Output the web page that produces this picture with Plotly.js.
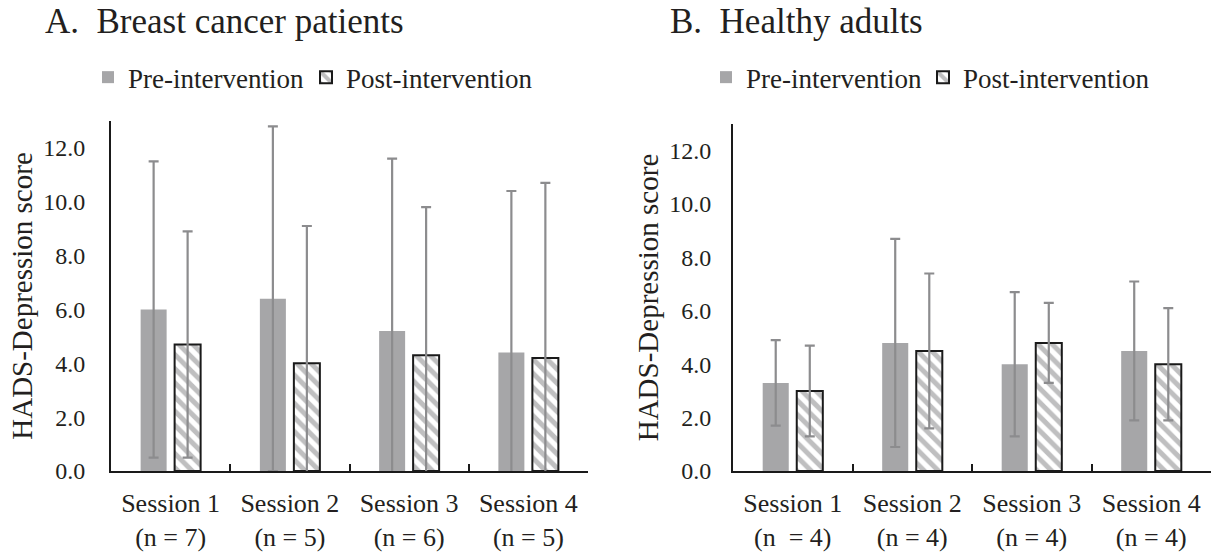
<!DOCTYPE html>
<html>
<head>
<meta charset="utf-8">
<script src="https://cdn.plot.ly/plotly-3.0.1.min.js"></script>
<style>html,body{margin:0;padding:0;background:#fff;}#chart{width:1226px;height:555px;}</style>
</head>
<body>
<div id="chart"></div>
<script>
// ---- data ----
const sessions = ['Session 1', 'Session 2', 'Session 3', 'Session 4'];
const nA = ['(n = 7)', '(n = 5)', '(n = 6)', '(n = 5)'];
const nB = ['(n\u00a0 = 4)', '(n = 4)', '(n = 4)', '(n = 4)'];

const preA = [6.0, 6.4, 5.2, 4.4];
const preAErr = [5.5, 6.4, 6.4, 6.0];
const postA = [4.7, 4.0, 4.3, 4.2];
const postAErr = [4.2, 5.1, 5.5, 6.5];

const preB = [3.3, 4.8, 4.0, 4.5];
const preBErr = [1.6, 3.9, 2.7, 2.6];
const postB = [3.0, 4.5, 4.8, 4.0];
const postBErr = [1.7, 2.9, 1.5, 2.1];

const yTicks = [0, 2, 4, 6, 8, 10, 12];

// ---- styles ----
const FONT = 'Liberation Serif, Times New Roman, Times, serif';
const TXT = '#231f20';
const PRE_COLOR = '#a6a6a8';
const ERR_COLOR = '#8c8c8e';
const HATCH = '#7f7f81';

const tickA = sessions.map((s, i) => s + '<br>' + nA[i]);
const tickB = sessions.map((s, i) => s + '<br>' + nB[i]);

function errY(arr) {
  return {type: 'data', array: arr, visible: true, color: ERR_COLOR, thickness: 2.2, width: 5};
}
function preTrace(y, err, xa, ya, lg) {
  return {type: 'bar', name: 'Pre-intervention', x: sessions, y: y, xaxis: xa, yaxis: ya, legend: lg,
    marker: {color: PRE_COLOR, line: {width: 0}}, error_y: errY(err), hoverinfo: 'y'};
}
function postTrace(y, err, xa, ya, lg) {
  return {type: 'bar', name: 'Post-intervention', x: sessions, y: y, xaxis: xa, yaxis: ya, legend: lg,
    marker: {color: '#ffffff', line: {color: '#1a1a1a', width: 2},
      pattern: {shape: '\\', fgcolor: HATCH, bgcolor: '#ffffff', size: 10, solidity: 0.5, fillmode: 'overlay'}},
    error_y: errY(err), hoverinfo: 'y'};
}

const data = [
  preTrace(preA, preAErr, 'x', 'y', 'legend'),
  postTrace(postA, postAErr, 'x', 'y', 'legend2'),
  preTrace(preB, preBErr, 'x2', 'y2', 'legend3'),
  postTrace(postB, postBErr, 'x2', 'y2', 'legend4')
];

function xAxis(domain, ticktext, anchor) {
  return {domain: domain, anchor: anchor, type: 'category', range: [-0.5, 3.5],
    tickmode: 'array', tickvals: sessions, ticktext: ticktext,
    showline: true, linecolor: '#1a1a1a', linewidth: 2,
    ticks: 'inside', tickson: 'boundaries', ticklen: 7, tickwidth: 2, tickcolor: '#1a1a1a',
    ticklabelstandoff: 8,
    tickfont: {family: FONT, size: 26, color: TXT}, showgrid: false, zeroline: false, fixedrange: true};
}
function yAxis(domain, anchor, standoff) {
  return {domain: domain, anchor: anchor, range: [0, 13], tickmode: 'array', tickvals: yTicks,
    tickformat: '.1f', showline: true, linecolor: '#1a1a1a', linewidth: 2, ticks: '',
    ticklabelstandoff: standoff,
    tickfont: {family: FONT, size: 24, color: TXT}, showgrid: false, zeroline: false, fixedrange: true,
    title: {text: 'HADS-Depression score', font: {family: FONT, size: 29, color: TXT}, standoff: 2}};
}

function lg(xpx) {
  return {orientation: 'h', yanchor: 'middle', xanchor: 'left', bgcolor: 'rgba(0,0,0,0)',
    x: xpx / 1226, y: 1.124, borderwidth: 0,
    font: {family: FONT, size: 27, color: TXT}, itemwidth: 30, tracegroupgap: 0};
}

const layout = {
  width: 1226, height: 555,
  margin: {l: 0, r: 0, t: 121, b: 84, pad: 0},
  paper_bgcolor: '#ffffff', plot_bgcolor: '#ffffff',
  font: {family: FONT, color: TXT},
  barmode: 'group', bargap: 0.43, bargroupgap: 0.235,
  showlegend: true,
  xaxis: xAxis([111 / 1226, 588 / 1226], tickA, 'y'),
  yaxis: yAxis([0, 1], 'x', 19),
  xaxis2: xAxis([733 / 1226, 1211 / 1226], tickB, 'y2'),
  yaxis2: yAxis([0, 347 / 350], 'x2', 15),
  legend: lg(88),
  legend2: lg(306),
  legend3: lg(706),
  legend4: lg(923),
  annotations: [
    {text: 'A.\u00a0\u00a0Breast cancer patients', xref: 'paper', yref: 'paper', x: 43 / 1226, y: 1.283,
      xanchor: 'left', yanchor: 'middle', showarrow: false, font: {family: FONT, size: 35, color: TXT}},
    {text: 'B.\u00a0\u00a0Healthy adults', xref: 'paper', yref: 'paper', x: 668 / 1226, y: 1.283,
      xanchor: 'left', yanchor: 'middle', showarrow: false, font: {family: FONT, size: 35, color: TXT}}
  ]
};

Plotly.newPlot('chart', data, layout, {displayModeBar: false, staticPlot: true});
</script>
</body>
</html>
